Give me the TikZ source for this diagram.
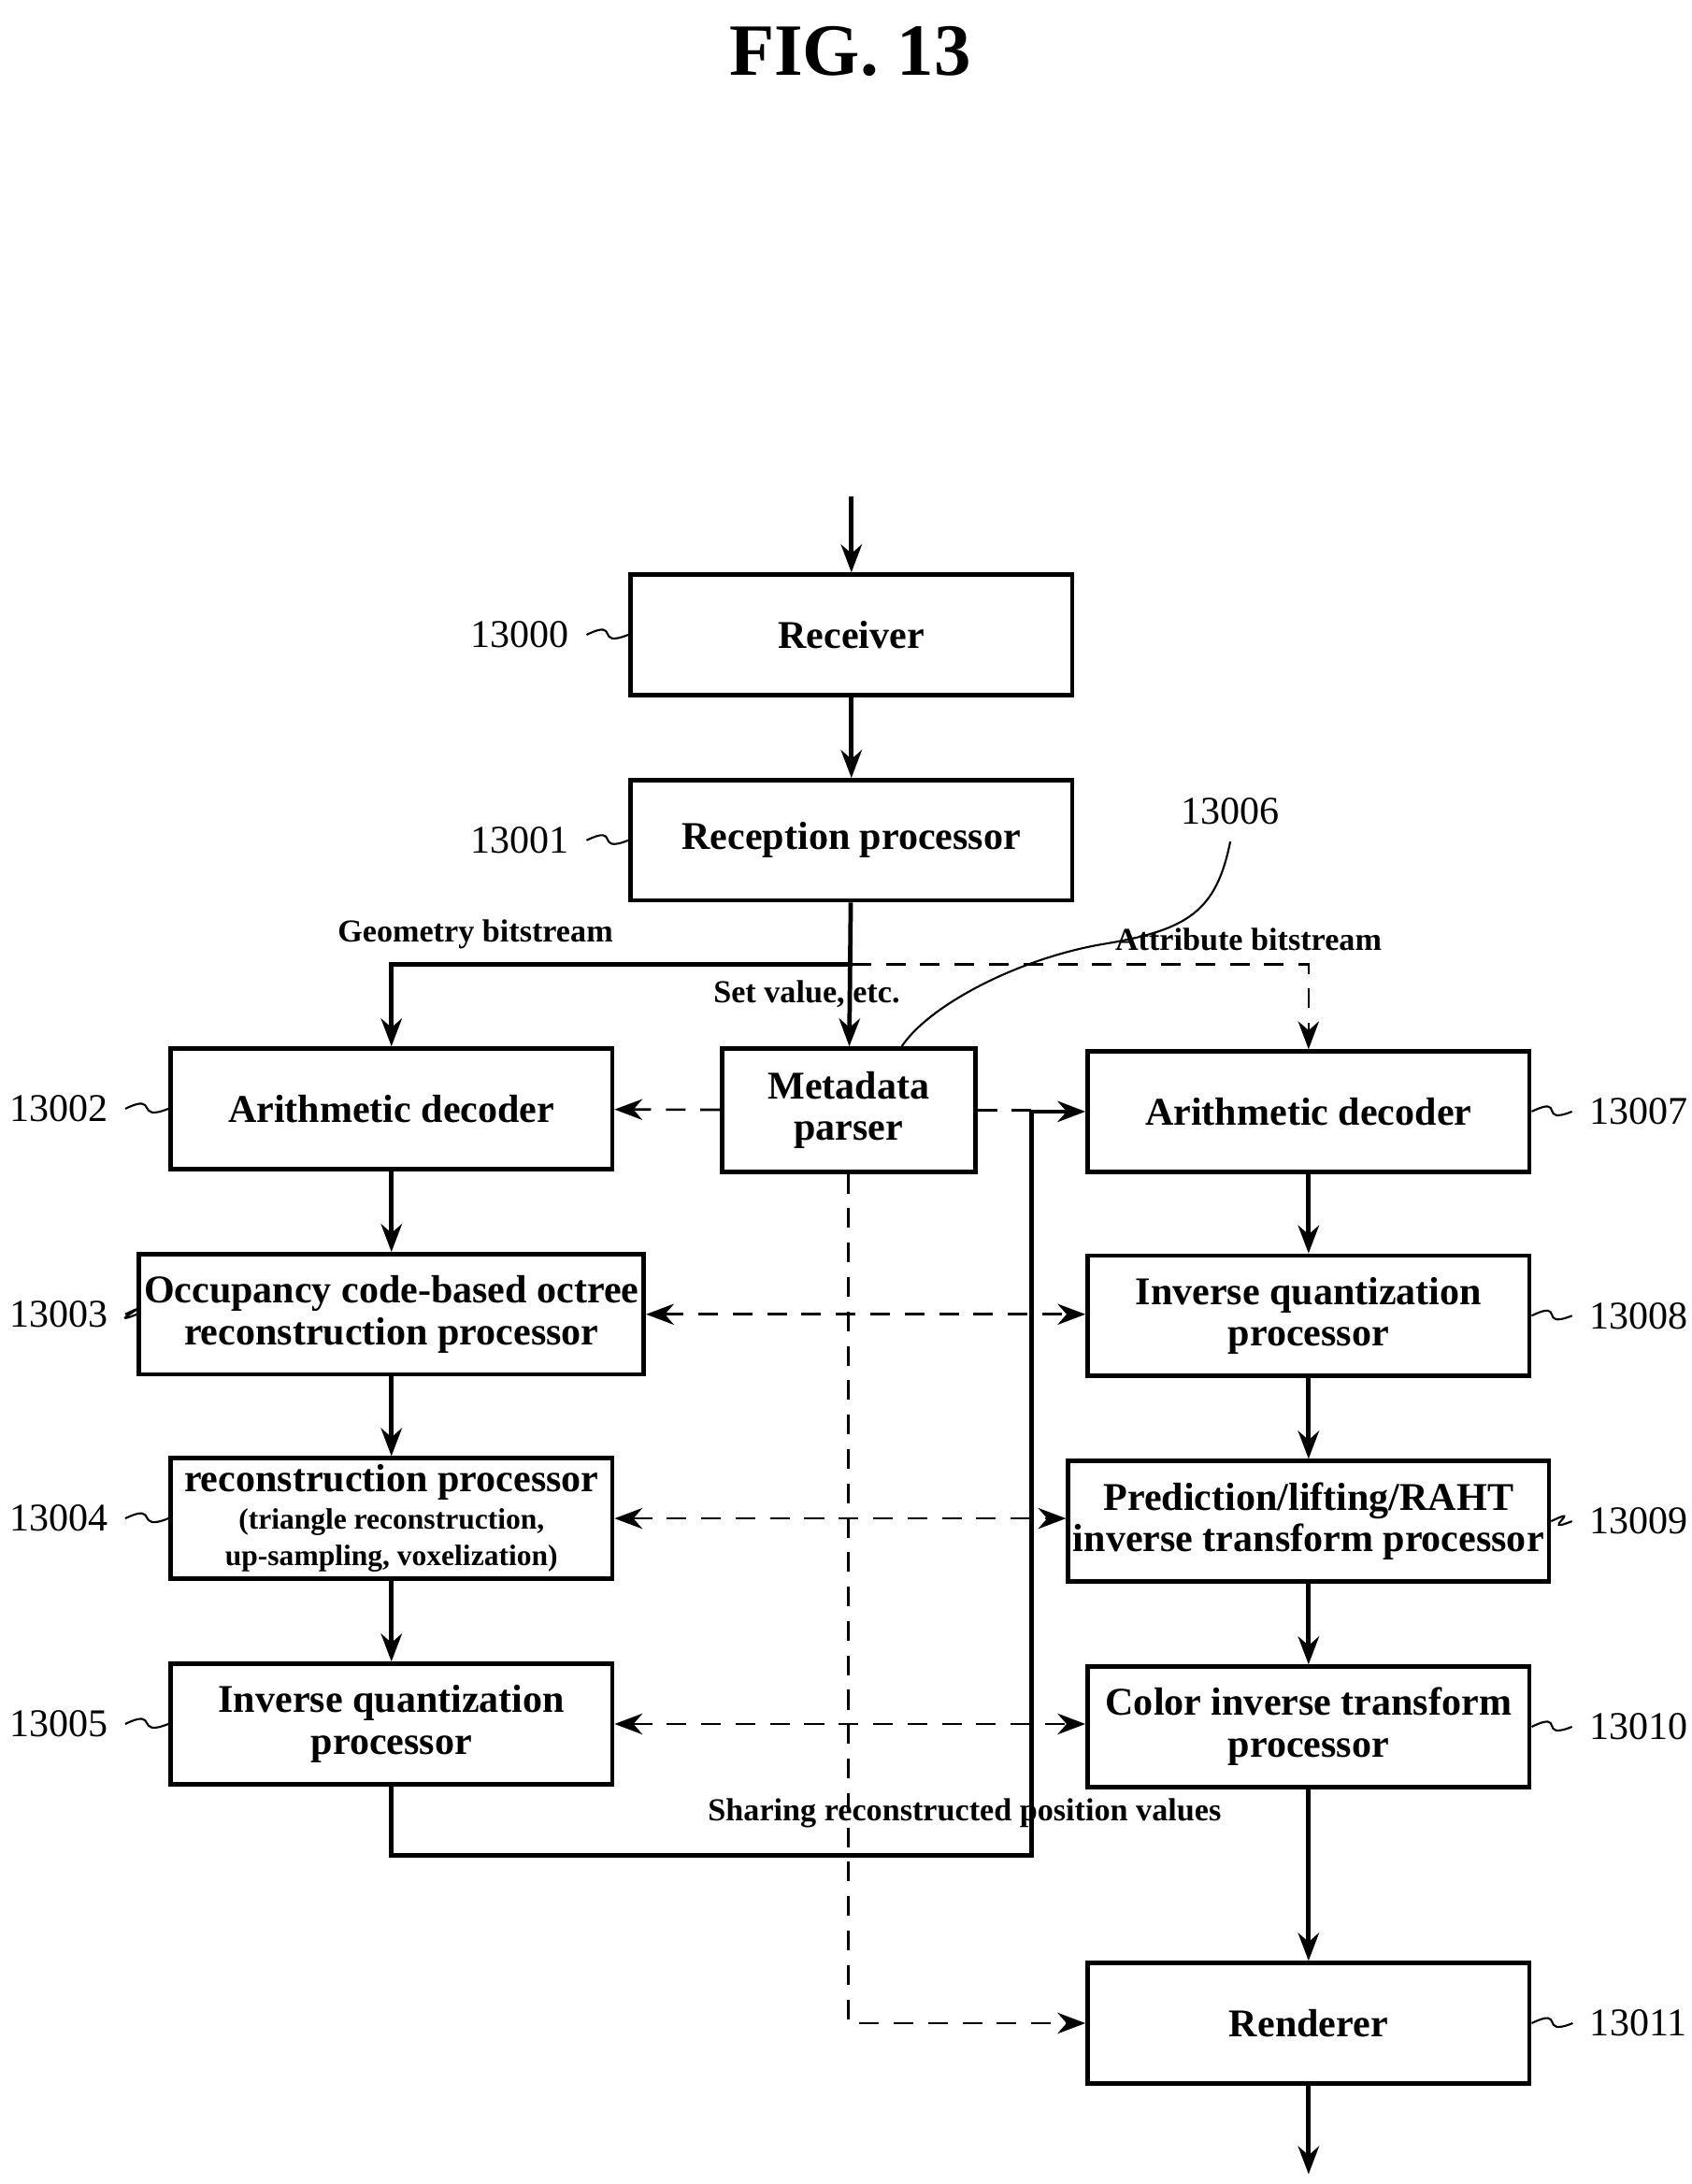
\documentclass[tikz,border=0pt]{standalone}
\usepackage{fontspec}
\setmainfont{Liberation Serif}
\usetikzlibrary{positioning, arrows.meta, calc}

\tikzset{
  blk/.style={draw, line width=0.9pt, minimum width=3.16cm, minimum height=0.86cm,
              align=center, font=\bfseries\fontsize{8}{8.5}\selectfont, inner sep=1pt},
  meta/.style={blk, minimum width=1.81cm, minimum height=0.88cm},
  flow/.style={line width=0.9pt, -{Stealth[length=2mm]}},
  ctl/.style={line width=0.5pt, dashed, dash pattern=on 4pt off 3pt},
  num/.style={font=\fontsize{8}{9}\selectfont},
  lbl/.style={font=\bfseries\fontsize{6.5}{7}\selectfont},
  refl/.style={line width=0.4pt}
}

\begin{document}
\begin{tikzpicture}
  \useasboundingbox (0,0) rectangle (12.1,15.62);
  \node[font=\bfseries\fontsize{15}{16}\selectfont] (title) at (6.08,15.25) {FIG. 13};

  % blocks
  \node[blk] (recv) at (6.09,11.08) {Receiver};
  \node[blk] (rproc) at (6.09,9.61) {Reception processor};
  \node[blk] (adecG) at (2.80,7.69) {Arithmetic decoder};
  \node[meta] (mparse) at (6.07,7.68) {Metadata\\parser};
  \node[blk] (adecA) at (9.36,7.67) {Arithmetic decoder};
  \node[blk] (octree) at (2.80,6.22) {Occupancy code-based octree\\reconstruction processor};
  \node[blk] (iquantA) at (9.36,6.21) {Inverse quantization\\processor};
  \node[blk] (recon) at (2.80,4.76) {reconstruction processor\\[-1pt]{\fontsize{6}{6.5}\selectfont (triangle reconstruction,}\\[-1pt]{\fontsize{6}{6.5}\selectfont up-sampling, voxelization)}};
  \node[blk] (pred) at (9.36,4.74) {Prediction/lifting/RAHT\\inverse transform processor};
  \node[blk] (iquantG) at (2.80,3.29) {Inverse quantization\\processor};
  \node[blk] (color) at (9.36,3.27) {Color inverse transform\\processor};
  \node[blk] (rend) at (9.36,1.15) {Renderer};

  % reference numbers
  \node[num] (n13000) at (3.72,11.08) {13000};
  \node[num] (n13001) at (3.72,9.61) {13001};
  \node[num] (n13002) at (0.42,7.69) {13002};
  \node[num] (n13003) at (0.42,6.22) {13003};
  \node[num] (n13004) at (0.42,4.76) {13004};
  \node[num] (n13005) at (0.42,3.29) {13005};
  \node[num] (n13006) at (8.80,9.82) {13006};
  \node[num] (n13007) at (11.72,7.67) {13007};
  \node[num] (n13008) at (11.72,6.21) {13008};
  \node[num] (n13009) at (11.72,4.74) {13009};
  \node[num] (n13010) at (11.72,3.27) {13010};
  \node[num] (n13011) at (11.72,1.15) {13011};
  \foreach \n/\b in {n13000/recv, n13001/rproc, n13002/adecG, n13003/octree, n13004/recon, n13005/iquantG}
    \draw[refl] (\n.east) .. controls +(0.25,0.12) and +(-0.25,-0.1) .. (\b.west);
  \foreach \n/\b in {n13007/adecA, n13008/iquantA, n13009/pred, n13010/color, n13011/rend}
    \draw[refl] (\b.east) .. controls +(0.25,0.12) and +(-0.25,-0.1) .. (\n.west);
  \draw[refl] (n13006.south) .. controls +(-0.1,-0.5) and +(0.6,0.1) .. ($(n13006.south)!0.5!(mparse.north east)$)
              .. controls +(-0.6,-0.1) and +(0.2,0.3) .. ($(mparse.north)+(0.38,0)$);

  % main flow
  \coordinate (inp) at (6.09,12.07);
  \coordinate (outp) at (9.36,0.07);
  \draw[flow] (inp) -- (recv);
  \draw[flow] (recv) -- (rproc);
  \draw[flow] (rproc) -- (mparse);
  \coordinate (split) at ($(rproc.south)+(0,-0.44)$);
  \draw[flow] (split) -| (adecG);
  \draw[ctl, -{Stealth[length=2mm]}] (split) -| (adecA);
  \draw[flow] (adecG) -- (octree);
  \draw[flow] (octree) -- (recon);
  \draw[flow] (recon) -- (iquantG);
  \draw[flow] (adecA) -- (iquantA);
  \draw[flow] (iquantA) -- (pred);
  \draw[flow] (pred) -- (color);
  \draw[flow] (color) -- (rend);
  \draw[flow] (rend) -- (outp);

  % sharing reconstructed positions
  \coordinate (shareX) at (7.38,2.35);
  \draw[flow] (iquantG.south) |- (shareX) |- (adecA.west);

  % metadata control
  \draw[ctl, -{Stealth[length=2mm]}] (mparse) -- (adecG);
  \draw[ctl] (mparse.east) -- (7.38,7.68);
  \draw[ctl, -{Stealth[length=2mm]}] (mparse.south) |- (rend.west);
  \foreach \l/\r in {octree/iquantA, recon/pred, iquantG/color}
    \draw[ctl, {Stealth[length=2mm]}-{Stealth[length=2mm]}] (\l.east) -- (\l.east -| \r.west);

  % labels
  \node[lbl] (gbit) at (3.40,8.94) {Geometry bitstream};
  \node[lbl] (abit) at (8.93,8.90) {Attribute bitstream};
  \node[lbl] (setv) at (5.77,8.51) {Set value, etc.};
  \node[lbl] (share) at (6.90,2.65) {Sharing reconstructed position values};
\end{tikzpicture}
\end{document}
